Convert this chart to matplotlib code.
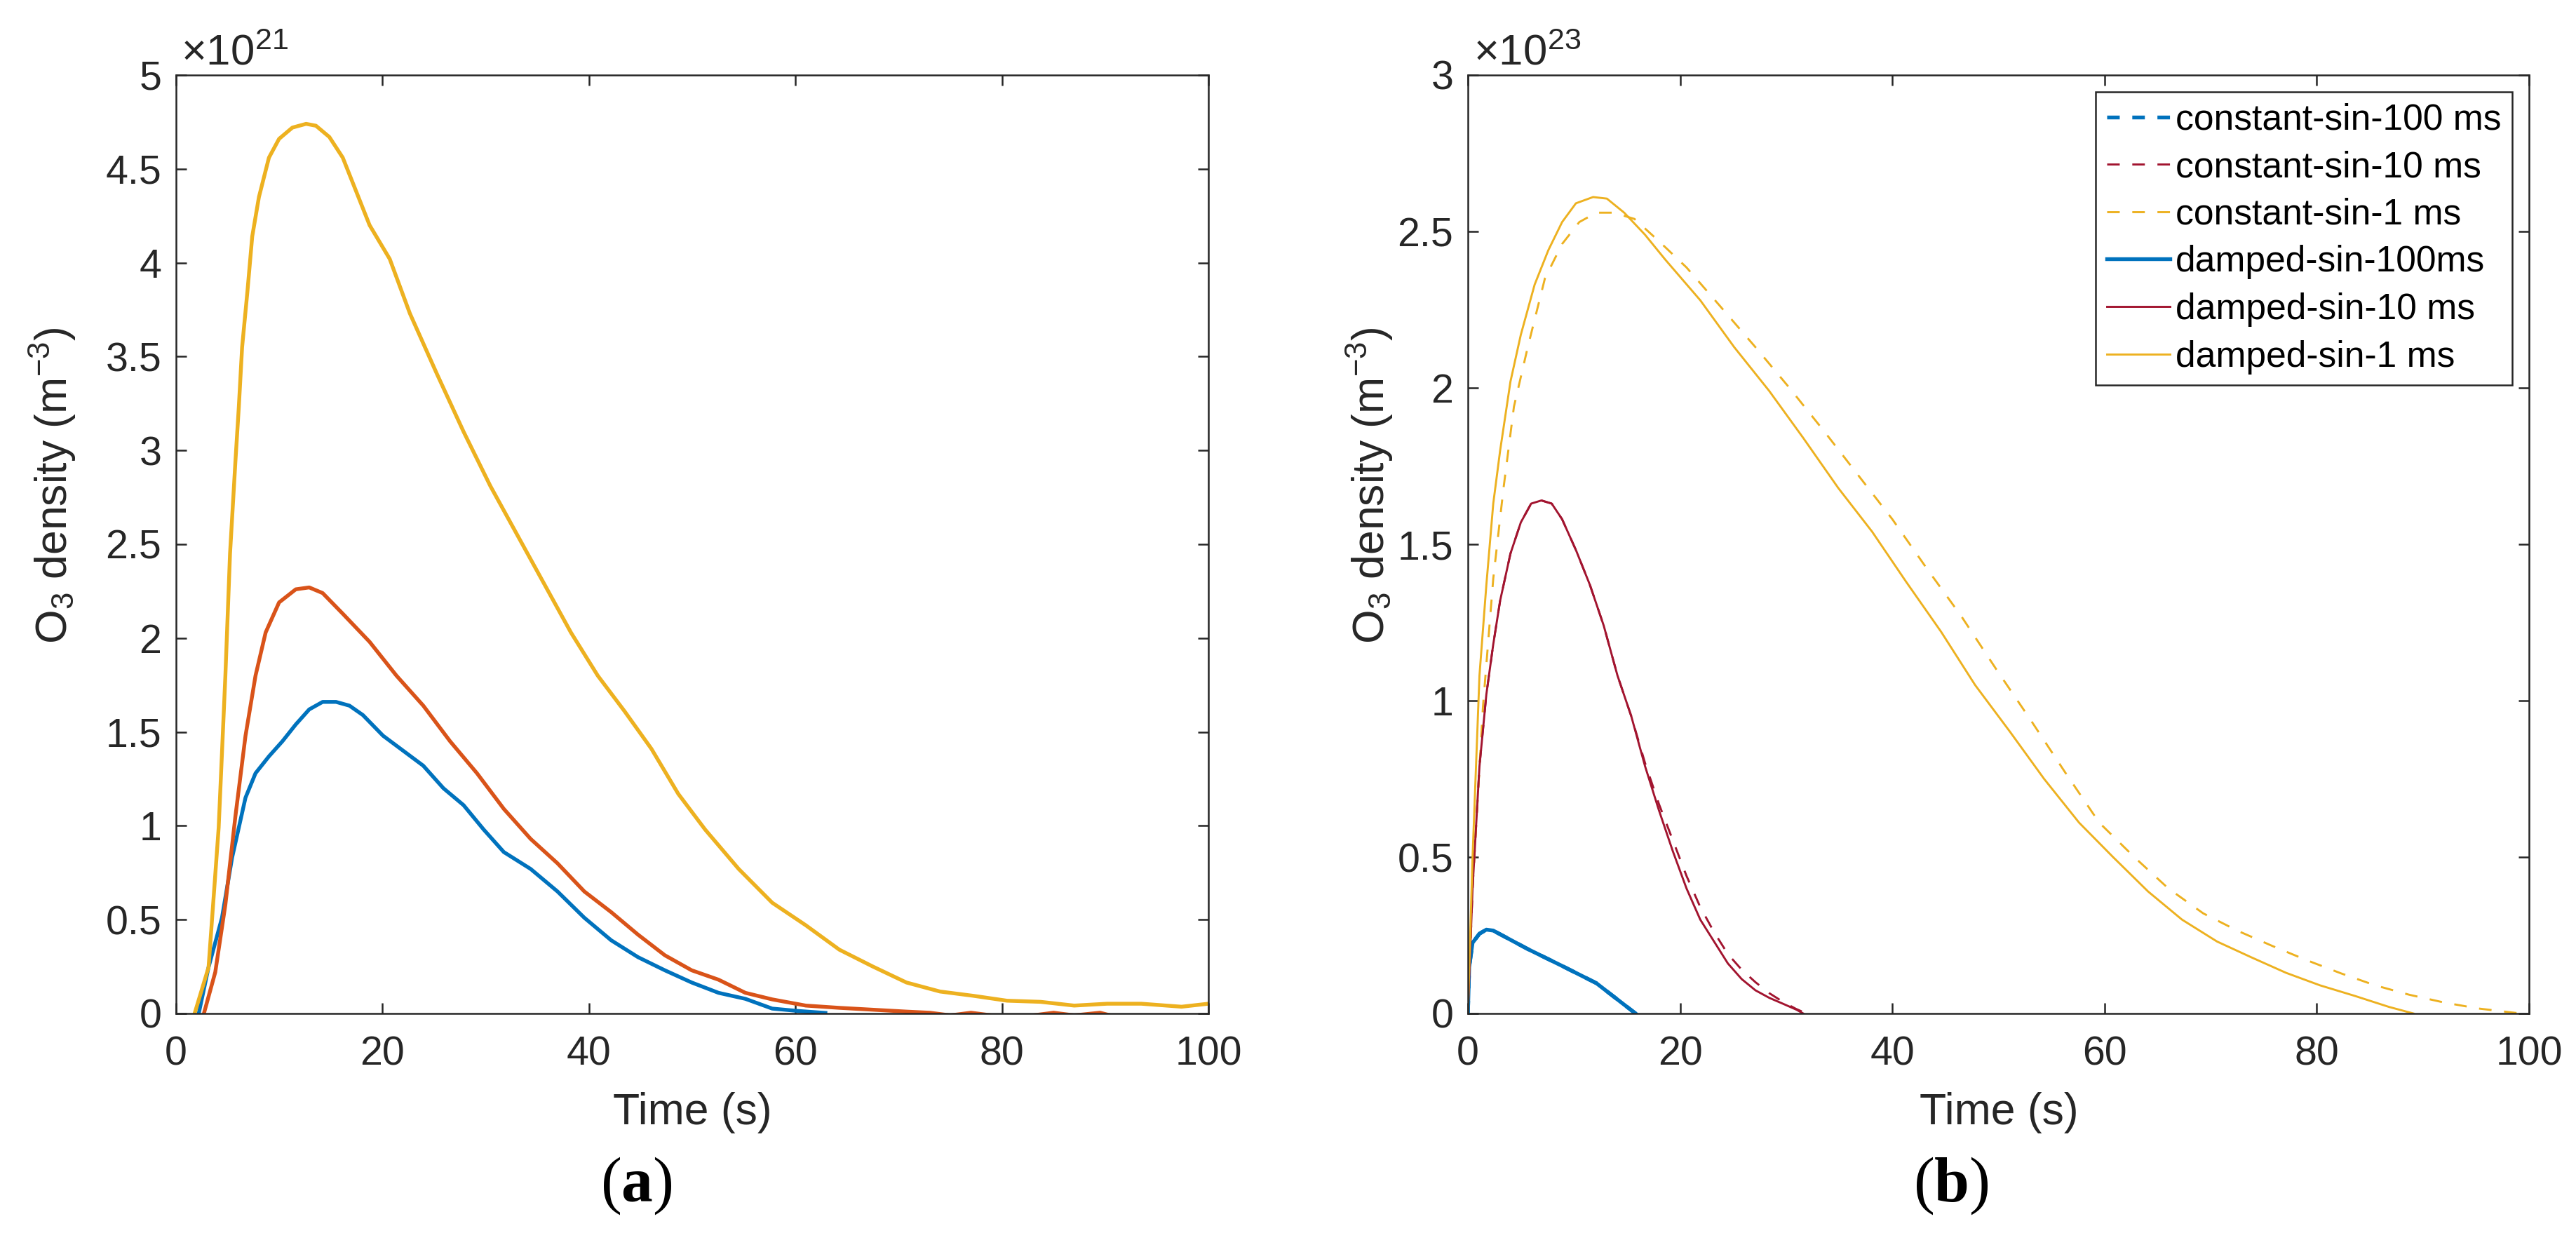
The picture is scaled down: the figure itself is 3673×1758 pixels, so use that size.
import matplotlib
matplotlib.use('Agg')
import matplotlib.pyplot as plt
from matplotlib.ticker import FuncFormatter, FixedLocator

plt.rcParams['font.family'] = ['Liberation Sans', 'DejaVu Sans']
plt.rcParams['mathtext.fontset'] = 'custom'
plt.rcParams['mathtext.rm'] = 'Liberation Sans'
plt.rcParams['mathtext.it'] = 'Liberation Sans:italic'
plt.rcParams['mathtext.bf'] = 'Liberation Serif:bold'
plt.rcParams['mathtext.sf'] = 'Liberation Serif'
plt.rcParams['lines.scale_dashes'] = False

# ---------------- data: panel (a), values in units of 1e21 m^-3 ----------------
SCALE_A = 1e21
a_blue_t = [2.2, 3.15, 4.45, 5.43, 6.08, 6.73, 7.7, 9.0, 10.3, 11.6, 12.9, 14.2, 15.5, 16.8,
            18.1, 20.05, 22.0, 23.95, 25.9, 27.85, 29.8, 31.75, 34.35, 36.95, 39.55, 42.15,
            44.75, 47.35, 49.95, 52.55, 55.15, 57.75, 60.35, 62.9]
a_blue_v = [0, 0.246, 0.51, 0.83, 0.99, 1.15, 1.28, 1.37, 1.45, 1.54, 1.62, 1.66, 1.66, 1.64,
            1.59, 1.48, 1.40, 1.32, 1.20, 1.11, 0.98, 0.86, 0.77, 0.65, 0.51, 0.39,
            0.30, 0.23, 0.165, 0.11, 0.078, 0.026, 0.013, 0.003]

a_red_t = [2.7, 3.8, 4.78, 5.75, 6.73, 7.7, 8.68, 9.98, 11.6, 12.9, 14.2, 16.15, 18.75, 21.35,
           23.95, 26.55, 29.15, 31.75, 34.35, 36.95, 39.55, 42.15, 44.75, 47.35, 49.95, 52.55,
           55.15, 57.75, 61.0, 64.25, 67.5, 70.75, 73, 75, 77, 79, 81, 83, 85, 87, 89.5, 90.5]
a_red_v = [0, 0.22, 0.58, 1.05, 1.48, 1.80, 2.03, 2.19, 2.26, 2.27, 2.24, 2.13, 1.98, 1.80,
           1.64, 1.45, 1.28, 1.09, 0.93, 0.80, 0.65, 0.54, 0.42, 0.31, 0.23, 0.18,
           0.11, 0.075, 0.042, 0.03, 0.02, 0.01, 0.004, -0.01, 0.004, -0.01, -0.01, -0.01,
           0.004, -0.01, 0.004, -0.01]

a_yel_t = [1.8, 3.15, 4.13, 4.78, 5.23, 5.75, 6.08, 6.4, 6.92, 7.38, 8.03, 9.0, 9.98, 11.27,
           12.6, 13.55, 14.85, 16.15, 17.45, 18.75, 20.7, 22.65, 25.25, 27.85, 30.45, 33.05,
           35.65, 38.25, 40.85, 43.45, 46.05, 48.65, 51.25, 54.5, 57.75, 61.0, 64.25, 67.5,
           70.75, 74.0, 77.25, 80.5, 83.75, 87.0, 90.2, 93.5, 97.4, 100]
a_yel_v = [0, 0.246, 0.99, 1.80, 2.45, 2.94, 3.23, 3.55, 3.85, 4.14, 4.35, 4.56, 4.66, 4.72,
           4.74, 4.73, 4.67, 4.56, 4.38, 4.20, 4.02, 3.73, 3.41, 3.10, 2.81, 2.55,
           2.29, 2.03, 1.80, 1.61, 1.41, 1.17, 0.98, 0.77, 0.59, 0.47, 0.34, 0.25,
           0.165, 0.117, 0.094, 0.068, 0.062, 0.042, 0.052, 0.052, 0.036, 0.052]

# ---------------- data: panel (b), values in units of 1e23 m^-3 ----------------
SCALE_B = 1e23
labels_b = ['constant-sin-100 ms', 'constant-sin-10 ms', 'constant-sin-1 ms',
            'damped-sin-100ms', 'damped-sin-10 ms', 'damped-sin-1 ms']

b_d100_t = [0, 0.12, 0.44, 1.09, 1.74, 2.39, 5.64, 8.88, 12.1, 15.8]
b_d100_v = [0, 0.148, 0.226, 0.255, 0.268, 0.265, 0.206, 0.152, 0.097, 0]
b_c100_t = [0, 0.12, 0.44, 1.09, 1.74, 2.39, 5.64, 8.88, 12.1, 15.8]
b_c100_v = [0, 0.148, 0.226, 0.255, 0.268, 0.265, 0.206, 0.152, 0.097, 0]

b_d10_t = [0, 0.44, 1.09, 1.74, 2.39, 3.04, 4.01, 4.99, 5.96, 6.93, 7.9, 8.88, 10.2, 11.5,
           12.8, 14.1, 15.4, 16.7, 18.0, 19.3, 20.6, 21.9, 23.2, 24.5, 25.8, 27.1, 28.4,
           29.7, 30.97, 31.6]
b_d10_v = [0, 0.40, 0.79, 1.02, 1.18, 1.32, 1.47, 1.57, 1.63, 1.64, 1.63, 1.58, 1.48, 1.37,
           1.24, 1.08, 0.95, 0.79, 0.65, 0.52, 0.40, 0.30, 0.23, 0.16, 0.11, 0.074, 0.05,
           0.031, 0.012, 0]
b_c10_t = [0, 0.44, 1.09, 1.74, 2.39, 3.04, 4.01, 4.99, 5.96, 6.93, 7.9, 8.88, 10.2, 11.5,
           12.8, 14.1, 15.4, 16.7, 18.0, 19.3, 20.6, 21.9, 23.2, 24.5, 25.8, 27.1, 28.4,
           29.7, 30.9, 31.9]
b_c10_v = [0, 0.40, 0.79, 1.02, 1.18, 1.32, 1.47, 1.57, 1.63, 1.64, 1.63, 1.58, 1.48, 1.37,
           1.24, 1.08, 0.95, 0.80, 0.67, 0.555, 0.44, 0.34, 0.26, 0.19, 0.14, 0.10, 0.065,
           0.037, 0.015, 0]

b_d1_t = [0, 0.44, 1.09, 1.74, 2.39, 3.04, 4.01, 4.99, 6.29, 7.58, 8.88, 10.18, 11.8, 13.1,
          14.73, 16.68, 18.6, 21.9, 25.1, 28.4, 31.6, 34.9, 38.1, 41.3, 44.6, 47.8, 51.1,
          54.3, 57.6, 60.8, 64.1, 67.3, 70.6, 73.8, 77.1, 80.3, 83.6, 86.8, 89.1]
b_d1_v = [0, 0.50, 1.08, 1.37, 1.63, 1.80, 2.02, 2.17, 2.33, 2.44, 2.53, 2.59, 2.61, 2.605,
          2.56, 2.49, 2.41, 2.28, 2.13, 1.99, 1.84, 1.68, 1.54, 1.38, 1.22, 1.05, 0.90,
          0.75, 0.61, 0.50, 0.39, 0.30, 0.23, 0.18, 0.13, 0.09, 0.056, 0.021, 0]
b_c1_t = [0, 0.44, 1.42, 2.39, 3.36, 4.34, 5.64, 7.26, 8.88, 10.5, 12.1, 13.75, 15.7, 17.97,
          20.6, 23.8, 27.1, 30.3, 33.6, 36.8, 40.0, 43.3, 46.5, 49.8, 53.0, 56.3, 59.5,
          62.8, 66.0, 69.3, 72.5, 75.8, 79.0, 82.3, 85.5, 88.7, 92.0, 95.2, 98.2, 99.2]
b_c1_v = [0, 0.40, 0.98, 1.39, 1.68, 1.94, 2.13, 2.35, 2.46, 2.53, 2.56, 2.56, 2.54, 2.47,
          2.385, 2.26, 2.13, 2.00, 1.86, 1.72, 1.58, 1.42, 1.27, 1.10, 0.94, 0.77, 0.61,
          0.50, 0.40, 0.32, 0.265, 0.216, 0.171, 0.128, 0.09, 0.06, 0.035, 0.016, 0.004, 0]

time_ticks = [0, 20, 40, 60, 80, 100]
yticks_a = [0, 0.5, 1, 1.5, 2, 2.5, 3, 3.5, 4, 4.5, 5]
yticks_b = [0, 0.5, 1, 1.5, 2, 2.5, 3]

# ---------------- styling ----------------
BLUE = '#0072BD'
ORANGE = '#D95319'
YELLOW = '#EDB120'
RED = '#A2142F'
DARK = '#262626'
TICK_FS = 13.75
LABEL_FS = 15

W, H = 3673, 1758
DPI = 300
fig = plt.figure(figsize=(W / DPI, H / DPI), dpi=DPI)

def px_axes(x0, x1, ytop, ybot):
    return fig.add_axes([x0 / W, (H - ybot) / H, (x1 - x0) / W, (ybot - ytop) / H])

axA = px_axes(251, 1723, 107, 1445)
axB = px_axes(2093, 3606, 107, 1445)

def style(ax, yticks, scale, exp):
    ax.set_xlim(0, 100)
    ax.set_ylim(0, yticks[-1] * scale)
    ax.xaxis.set_major_locator(FixedLocator(time_ticks))
    ax.yaxis.set_major_locator(FixedLocator([v * scale for v in yticks]))
    ax.xaxis.set_major_formatter(FuncFormatter(lambda v, p: f'{v:g}'))
    ax.yaxis.set_major_formatter(FuncFormatter(lambda v, p, s=scale: f'{v / s:g}'))
    ax.tick_params(direction='in', length=3.5, width=0.6, colors=DARK,
                   labelsize=TICK_FS, top=True, right=True)
    ax.tick_params(axis='y', pad=5)
    ax.tick_params(axis='x', pad=7.5)
    for s in ax.spines.values():
        s.set_linewidth(0.6)
        s.set_color(DARK)
    ax.text(0.005, 1.0105, '×10$^{%d}$' % exp, transform=ax.transAxes,
            ha='left', va='baseline', fontsize=14.8, color=DARK)

# panel (a)
axA.plot(a_blue_t, [v * SCALE_A for v in a_blue_v], color=BLUE, lw=1.3)
axA.plot(a_red_t, [v * SCALE_A for v in a_red_v], color=ORANGE, lw=1.3)
axA.plot(a_yel_t, [v * SCALE_A for v in a_yel_v], color=YELLOW, lw=1.3)
style(axA, yticks_a, SCALE_A, 21)

# panel (b)
dash = (4.3, 4.3)
axB.plot(b_c100_t, [v * SCALE_B for v in b_c100_v], color=BLUE, lw=1.3, dashes=dash, label=labels_b[0])
axB.plot(b_c10_t, [v * SCALE_B for v in b_c10_v], color=RED, lw=0.7, dashes=dash, label=labels_b[1])
axB.plot(b_c1_t, [v * SCALE_B for v in b_c1_v], color=YELLOW, lw=0.7, dashes=dash, label=labels_b[2])
axB.plot(b_d100_t, [v * SCALE_B for v in b_d100_v], color=BLUE, lw=1.3, label=labels_b[3])
axB.plot(b_d10_t, [v * SCALE_B for v in b_d10_v], color=RED, lw=0.7, label=labels_b[4])
axB.plot(b_d1_t, [v * SCALE_B for v in b_d1_v], color=YELLOW, lw=0.7, label=labels_b[5])
style(axB, yticks_b, SCALE_B, 23)

leg = axB.legend(loc='upper right', bbox_to_anchor=(0.9841, 0.982), borderaxespad=0,
                 fontsize=12.4, handlelength=1.75, handletextpad=0.15, borderpad=0.3,
                 labelspacing=0.36, fancybox=False, framealpha=1, edgecolor=DARK)
leg.get_frame().set_linewidth(0.6)

# axis labels
ylab = 'O$_3$ density (m$^{-3}$)'
fig.text(75 / W, (H - 692) / H, ylab, rotation=90, ha='center', va='center',
         fontsize=LABEL_FS, color=DARK)
fig.text(1953 / W, (H - 692) / H, ylab, rotation=90, ha='center', va='center',
         fontsize=LABEL_FS, color=DARK)
fig.text(987 / W, (H - 1603) / H, 'Time (s)', ha='center', va='baseline',
         fontsize=LABEL_FS, color=DARK)
fig.text(2850 / W, (H - 1603) / H, 'Time (s)', ha='center', va='baseline',
         fontsize=LABEL_FS, color=DARK)

# panel captions
fig.text(907 / W, (H - 1713) / H, r'$\mathsf{(}\mathbf{a}\mathsf{)}$', ha='center',
         va='baseline', fontsize=21.5, color='black')
fig.text(2782 / W, (H - 1713) / H, r'$\mathsf{(}\mathbf{b}\mathsf{)}$', ha='center',
         va='baseline', fontsize=21.5, color='black')

fig.savefig('out.png', dpi=DPI)
